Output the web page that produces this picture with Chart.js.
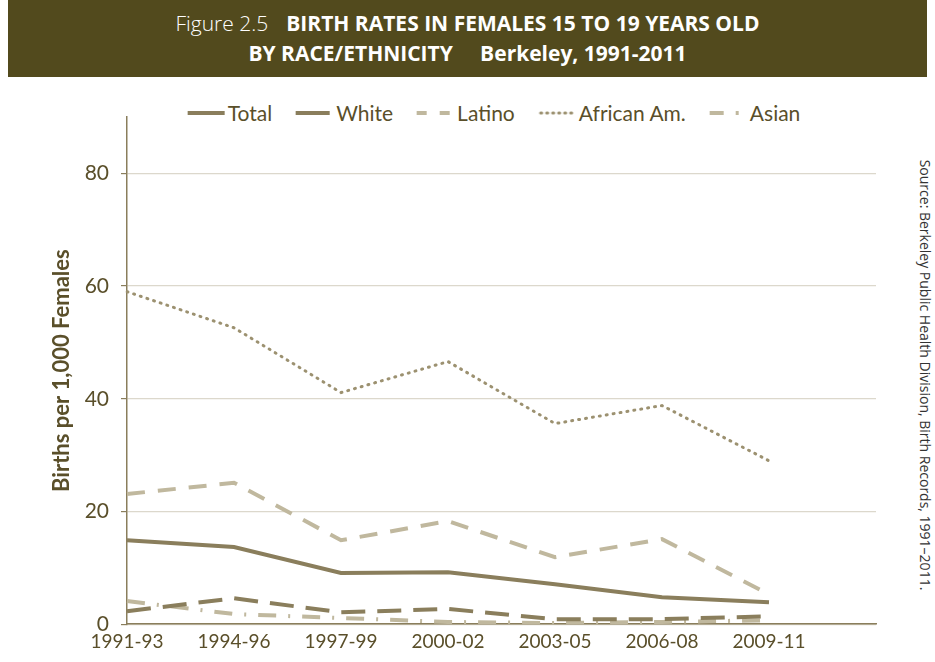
<!DOCTYPE html>
<html>
<head>
<meta charset="utf-8">
<script src="https://cdn.jsdelivr.net/npm/chart.js@4.4.1/dist/chart.umd.min.js"></script>
<style>
  body { margin: 0; background: #fff; width: 935px; height: 662px; overflow: hidden; position: relative; }
  #banner {
    position: absolute; left: 8px; top: 0; width: 919px; height: 77px;
    background: #524a1d; color: #fff; text-align: center;
    font-family: "Open Sans", sans-serif; font-size: 21px; line-height: 30px;
    padding-top: 8px; box-sizing: border-box;
  }
  #banner b { font-weight: bold; }
  #banner .fig { font-weight: 300; margin-right: 18px; }
  #source {
    position: absolute; left: 925px; top: 375px;
    transform: translate(-50%, -50%) rotate(90deg);
    white-space: nowrap; font-family: "Open Sans", sans-serif; font-size: 14px; color: #333;
  }
  #legend {
    position: absolute; left: 494px; top: 100px; transform: translateX(-50%);
    display: flex; align-items: center; white-space: nowrap;
    font-family: Lato, "Open Sans", sans-serif; font-size: 21px; color: #5a4f2a;
  }
  #legend .item { display: flex; align-items: center; margin: 0 12px; }
  #legend canvas { margin-right: 3px; }
  #wrap { position: absolute; left: 0; top: 80px; width: 900px; height: 579px; }
</style>
</head>
<body>
<div id="banner">
  <div><span class="fig">Figure 2.5</span><b>BIRTH RATES IN FEMALES 15 TO 19 YEARS OLD</b></div>
  <div><b>BY RACE/ETHNICITY</b>&nbsp;&nbsp;&nbsp;&nbsp;&nbsp;<b>Berkeley, 1991-2011</b></div>
</div>
<div id="source">Source: Berkeley Public Health Division, Birth Records, 1991–2011.</div>
<div id="legend"></div>
<div id="wrap"><canvas id="birthChart"></canvas></div>
<script>
// periode (label terakhir kosong, sumbu diperpanjang)
const periods = ['1991-93', '1994-96', '1997-99', '2000-02', '2003-05', '2006-08', '2009-11', ''];
const yTicks = [0, 20, 40, 60, 80];

// angka kelahiran per 1.000 perempuan
const total    = [14.9, 13.7, 9.1, 9.2, 7.1, 4.8, 3.9];
const white    = [2.3, 4.6, 2.1, 2.7, 0.9, 0.9, 1.4];
const latino   = [23.1, 25.1, 14.9, 18.3, 11.9, 15.1, 5.3];
const african  = [59.0, 52.6, 41.1, 46.6, 35.6, 38.8, 29.0];
const asian    = [4.1, 1.8, 1.1, 0.4, 0.2, 0.4, 0.7];

const dark = '#8a7e5c';
const light = '#c0b89e';
const mid = '#9c9170';
const textColor = '#5a4f2a';
const font = 'Lato, "Open Sans", sans-serif';

function series(label, data, color, dash, width, legendDash) {
    return {
        label: label,
        data: data,
        borderColor: color,
        backgroundColor: color,
        borderWidth: width,
        borderDash: dash,
        borderCapStyle: dash.length && dash[0] <= 2 ? 'round' : 'butt',
        legendDash: legendDash,
        pointRadius: 0,
        pointHoverRadius: 0,
        tension: 0,
        fill: false
    };
}

// legenda HTML dengan contoh garis
const htmlLegend = {
    id: 'htmlLegend',
    afterUpdate(chart) {
        const box = document.getElementById('legend');
        box.innerHTML = '';
        chart.data.datasets.forEach(ds => {
            const item = document.createElement('div');
            item.className = 'item';
            const c = document.createElement('canvas');
            c.width = 37; c.height = 10;
            const g = c.getContext('2d');
            g.strokeStyle = ds.borderColor;
            g.lineWidth = ds.borderWidth;
            g.lineCap = ds.borderCapStyle;
            g.setLineDash(ds.legendDash);
            g.beginPath();
            g.moveTo(ds.borderCapStyle === 'round' ? 2 : 0, 5);
            g.lineTo(37, 5);
            g.stroke();
            const t = document.createElement('span');
            t.textContent = ds.label;
            item.appendChild(c);
            item.appendChild(t);
            box.appendChild(item);
        });
    }
};

const ctx = document.getElementById('birthChart').getContext('2d');
const birthChart = new Chart(ctx, {
    type: 'line',
    data: {
        labels: periods,
        datasets: [
            series('Total', total, dark, [], 4, []),
            series('White', white, dark, [24, 12], 4, [34, 10]),
            series('Latino', latino, light, [18, 13], 4, [10, 13, 10]),
            series('African Am.', african, mid, [1, 6], 3, [1, 5]),
            series('Asian', asian, light, [18, 12, 2, 12], 4, [14, 12, 3, 20])
        ]
    },
    options: {
        responsive: true,
        maintainAspectRatio: false,
        animation: false,
        layout: { padding: { left: 45, right: 24, top: 37, bottom: 0 } },
        plugins: {
            legend: { display: false },
            tooltip: { enabled: false }
        },
        scales: {
            x: {
                offset: false,
                grid: { display: false, drawTicks: false },
                border: { color: dark, width: 1.5 },
                ticks: {
                    color: textColor,
                    padding: 6,
                    maxRotation: 0,
                    autoSkip: false,
                    font: { family: font, size: 19 }
                }
            },
            y: {
                min: 0,
                max: 90,
                afterBuildTicks: (scale) => {
                    scale.ticks = yTicks.map(v => ({ value: v }));
                },
                afterFit: (scale) => { scale.width = 82; },
                grid: {
                    color: '#dcd8cc',
                    tickColor: dark,
                    tickLength: 6,
                    lineWidth: 1.2
                },
                border: { color: dark, width: 1.5 },
                ticks: {
                    color: textColor,
                    padding: 12,
                    font: { family: font, size: 21 }
                },
                title: {
                    display: true,
                    text: 'Births per 1,000 Females',
                    color: textColor,
                    font: { family: font, size: 22, weight: 'bold' }
                }
            }
        }
    },
    plugins: [htmlLegend]
});
</script>
</body>
</html>
